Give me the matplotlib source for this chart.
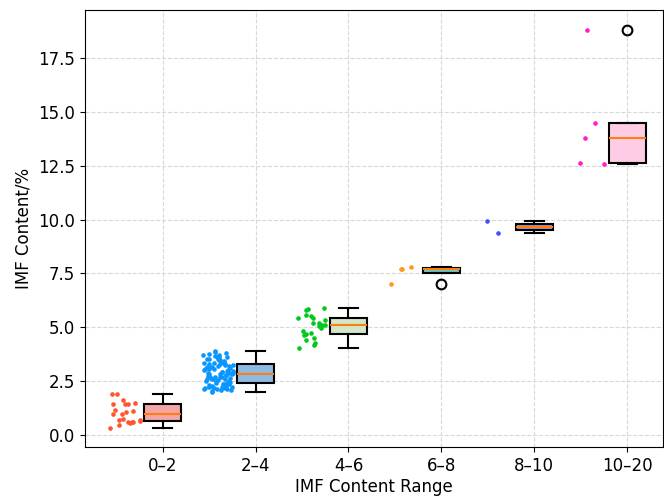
import numpy as np
import matplotlib
matplotlib.use("Agg")
import matplotlib.pyplot as plt

# IMF content range groups and measured values (%)
categories = ["0–2", "2–4", "4–6", "6–8", "8–10", "10–20"]

imf_0_2 = [1.88, 1.88, 1.48, 1.43, 1.45, 1.61, 1.42, 1.17, 1.10, 0.98, 0.95, 1.05,
           0.74, 0.60, 0.59, 0.66, 0.68, 0.56, 0.62, 0.48, 0.34, 0.70]
imf_2_4 = [2.00, 2.04, 2.08, 2.09, 2.13, 2.14, 2.15, 2.17, 2.18, 2.19, 2.21, 2.22,
           2.22, 2.25, 2.26, 2.29, 2.31, 2.32, 2.35, 2.37, 2.38, 2.40,
           2.42, 2.43, 2.47, 2.49, 2.51, 2.53, 2.55, 2.58, 2.59, 2.61, 2.64, 2.66,
           2.67, 2.70, 2.71, 2.73, 2.76, 2.77, 2.79, 2.81, 2.83, 2.84,
           2.86, 2.87, 2.89, 2.92, 2.93, 2.96, 2.99, 3.01, 3.02, 3.05, 3.07, 3.08,
           3.11, 3.13, 3.15, 3.17, 3.18, 3.21, 3.24, 3.26, 3.28, 3.29,
           3.31, 3.32, 3.34, 3.36, 3.39, 3.41, 3.44, 3.46, 3.47, 3.51, 3.54, 3.55,
           3.58, 3.61, 3.63, 3.67, 3.70, 3.72, 3.75, 3.79, 3.84, 3.88]
imf_4_6 = [5.91, 5.86, 5.79, 5.58, 5.51, 5.45, 5.42, 5.32, 5.20, 5.20, 5.12, 5.12,
           5.07, 5.04, 4.97, 4.85, 4.73, 4.68, 4.65, 4.50, 4.39, 4.27, 4.19, 4.05]
imf_6_8 = [7.69, 7.72, 7.81, 7.02]
imf_8_10 = [9.95, 9.36]
imf_10_20 = [18.82, 14.47, 13.79, 12.61, 12.60]

groups = [imf_0_2, imf_2_4, imf_4_6, imf_6_8, imf_8_10, imf_10_20]

point_colors = ["#FF5630", "#0A96FF", "#00C81E", "#FF9922", "#4B4BFF", "#FF1ECC"]
box_colors = ["#F4A6A6", "#8DB9E2", "#D3E6C8", "#6CC5C5", "#9B93D6", "#FFCCE6"]

fig = plt.figure(figsize=(6.64, 5.01), dpi=100)
ax = fig.add_axes([85 / 664, 54 / 501, 578 / 664, 437 / 501])
ax.set_axisbelow(True)
ax.grid(True, linestyle="--", color="#d8d8d8", linewidth=0.8)

positions = np.arange(1, len(groups) + 1)

# jittered points to the left of each box
rng = np.random.default_rng(3)
for pos, vals, c in zip(positions, groups, point_colors):
    xs = pos - 0.4 + rng.uniform(-0.17, 0.17, len(vals))
    ax.scatter(xs, vals, s=11, color=c, zorder=3, linewidths=0)

bp = ax.boxplot(groups, positions=positions, widths=0.4, patch_artist=True,
                boxprops=dict(linewidth=1.5, edgecolor="black"),
                whiskerprops=dict(linewidth=1.5, color="black"),
                capprops=dict(linewidth=1.5, color="black"),
                medianprops=dict(linewidth=1.5, color="#FF7F0E"),
                flierprops=dict(marker="o", markerfacecolor="none",
                                markeredgecolor="black", markersize=7,
                                markeredgewidth=1.5))
for patch, c in zip(bp["boxes"], box_colors):
    patch.set_facecolor(c)

ax.set_xticks(positions)
ax.set_xticklabels(categories)
ax.set_xlim(0.165, 6.385)
ax.set_ylim(-0.56, 19.74)
ax.set_yticks([0, 2.5, 5, 7.5, 10, 12.5, 15, 17.5])
ax.tick_params(labelsize=12)
ax.set_xlabel("IMF Content Range", fontsize=12, labelpad=2)
ax.set_ylabel("IMF Content/%", fontsize=12)

fig.savefig("out.png", dpi=100)
